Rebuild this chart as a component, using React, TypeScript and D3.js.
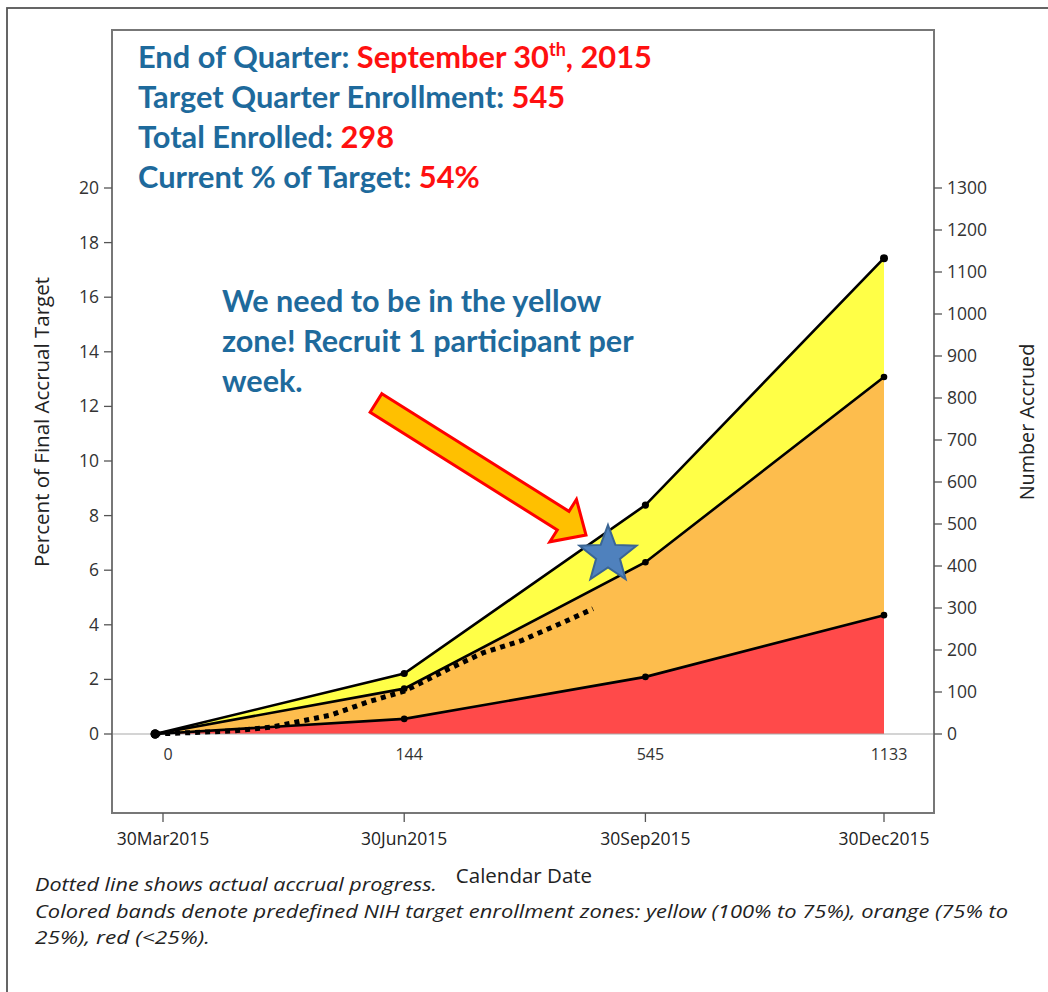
import React from "react";
import * as d3 from "d3";

// ---- data ----
const bandDates = ["2015-03-27", "2015-06-30", "2015-09-30", "2015-12-30"];
const targetTotal = [0, 144, 545, 1133]; // 100% target (top of yellow)
const target75 = [0, 108, 409, 850]; // 75% (top of orange)
const target25 = [0, 36, 136, 283]; // 25% (top of red)
const tickDates = ["2015-03-30", "2015-06-30", "2015-09-30", "2015-12-30"];
const tickDateLabels = ["30Mar2015", "30Jun2015", "30Sep2015", "30Dec2015"];
const targetLabels = ["0", "144", "545", "1133"];
const actualDates = [
  "2015-03-27", "2015-04-25", "2015-05-11", "2015-05-26", "2015-06-02", "2015-06-16",
  "2015-06-30", "2015-07-16", "2015-07-30", "2015-08-14", "2015-08-29", "2015-09-10",
];
const actualValues = [0, 7, 17, 36, 45, 76, 102, 152, 193, 223, 264, 298];
const pctTicks = [0, 2, 4, 6, 8, 10, 12, 14, 16, 18, 20];
const numTicks = [0, 100, 200, 300, 400, 500, 600, 700, 800, 900, 1000, 1100, 1200, 1300];

const parse = d3.timeParse("%Y-%m-%d");

export default function App() {
  const W = 1048, H = 992;
  const plot = { left: 112, right: 934, top: 30, bottom: 813 };
  const x = d3.scaleTime()
    .domain([parse("2015-03-30")!, parse("2015-12-30")!])
    .range([163, 884]);
  const yPct = d3.scaleLinear().domain([0, 20]).range([734, 188]);
  const yNum = d3.scaleLinear().domain([0, 1300]).range([734, 188]);

  const bd = bandDates.map((d) => parse(d)!);
  const rows = bd.map((d, i) => ({ d, top: targetTotal[i], o: target75[i], r: target25[i] }));

  const areaY = d3.area<any>().x((p) => x(p.d)).y0(yNum(0)).y1((p) => yNum(p.top));
  const areaO = d3.area<any>().x((p) => x(p.d)).y0(yNum(0)).y1((p) => yNum(p.o));
  const areaR = d3.area<any>().x((p) => x(p.d)).y0(yNum(0)).y1((p) => yNum(p.r));
  const line = (key: string) => d3.line<any>().x((p) => x(p.d)).y((p) => yNum(p[key]))(rows) || "";

  const actual = actualDates.map((d, i) => ({ d: parse(d)!, v: actualValues[i] }));
  const actualLine = d3.line<any>().x((p) => x(p.d)).y((p) => yNum(p.v))(actual) || "";

  // star annotation
  const sc = { x: 608, y: 555 }, rO = 30, rI = 12.5;
  const starPts: string[] = [];
  for (let i = 0; i < 10; i++) {
    const a = -Math.PI / 2 + (i * Math.PI) / 5;
    const r = i % 2 === 0 ? rO : rI;
    starPts.push(`${sc.x + r * Math.cos(a)},${sc.y + r * Math.sin(a)}`);
  }

  // arrow annotation
  const tail = { x: 376, y: 403 }, tip = { x: 586, y: 535 };
  const len = Math.hypot(tip.x - tail.x, tip.y - tail.y);
  const ang = (Math.atan2(tip.y - tail.y, tip.x - tail.x) * 180) / Math.PI;
  const sw = 11, hw = 25, hl = 27;
  const arrowPts = [
    [0, -sw], [len - hl, -sw], [len - hl, -hw], [len, 0], [len - hl, hw], [len - hl, sw], [0, sw],
  ].map((p) => p.join(",")).join(" ");

  const tickFont = "'Open Sans', sans-serif";
  const blue = "#1E6A9C";
  const red = "#FF1010";
  const headFont = "Lato, 'Open Sans', sans-serif";

  return (
    <svg width={W} height={H} style={{ position: "absolute", left: 0, top: 0, background: "#fff" }}
      fontFamily={tickFont}>
      <rect x={0} y={0} width={W} height={H} fill="#fff" />
      {/* outer frame */}
      <rect x={7} y={8} width={W + 20} height={H + 20} fill="none" stroke="#555" strokeWidth={1.8} />

      {/* bands */}
      <path d={areaY(rows) || ""} fill="#FFFF47" />
      <path d={areaO(rows) || ""} fill="#FDBD4D" />
      <path d={areaR(rows) || ""} fill="#FF4A4A" />

      {/* zero baseline */}
      <line x1={plot.left} x2={plot.right} y1={yPct(0)} y2={yPct(0)} stroke="#aaa" strokeWidth={1.2} />

      {/* band lines */}
      {["top", "o", "r"].map((k) => (
        <path key={k} d={line(k)} fill="none" stroke="#000" strokeWidth={2.6} />
      ))}
      {rows.map((p, i) => (
        <g key={i}>
          <circle cx={x(p.d)} cy={yNum(p.top)} r={i === 0 ? 4.5 : i === 3 ? 4 : 3.6} fill="#000" />
          <circle cx={x(p.d)} cy={yNum(p.o)} r={i === 0 ? 4.5 : 3.3} fill="#000" />
          <circle cx={x(p.d)} cy={yNum(p.r)} r={i === 0 ? 4.5 : 3.3} fill="#000" />
        </g>
      ))}

      {/* actual accrual dotted line */}
      <path d={actualLine} fill="none" stroke="#000" strokeWidth={5} strokeDasharray="5,5" />

      {/* target labels under baseline */}
      {tickDates.map((d, i) => (
        <text key={d} x={x(parse(d)!) + 5} y={760} textAnchor="middle" fontSize={16} fill="#333">
          {targetLabels[i]}
        </text>
      ))}

      {/* plot box */}
      <rect x={plot.left} y={plot.top} width={plot.right - plot.left} height={plot.bottom - plot.top}
        fill="none" stroke="#777" strokeWidth={2} />

      {/* left axis */}
      {pctTicks.map((t) => (
        <g key={t}>
          <line x1={plot.left - 8} x2={plot.left} y1={yPct(t)} y2={yPct(t)} stroke="#555" strokeWidth={1.3} />
          <text x={plot.left - 13} y={yPct(t) + 6} textAnchor="end" fontSize={17.5} fill="#333">{t}</text>
        </g>
      ))}
      <text transform={`translate(49,${422}) rotate(-90)`} textAnchor="middle"
        fontSize={20.5} fill="#222">Percent of Final Accrual Target</text>

      {/* right axis */}
      {numTicks.map((t) => (
        <g key={t}>
          <line x1={plot.right} x2={plot.right + 8} y1={yNum(t)} y2={yNum(t)} stroke="#555" strokeWidth={1.3} />
          <text x={plot.right + 13} y={yNum(t) + 6} textAnchor="start" fontSize={17.5} fill="#333">{t}</text>
        </g>
      ))}
      <text transform={`translate(1034,${422}) rotate(-90)`} textAnchor="middle"
        fontSize={19.8} fill="#222">Number Accrued</text>

      {/* bottom axis */}
      {tickDates.map((d, i) => (
        <g key={d}>
          <line x1={x(parse(d)!)} x2={x(parse(d)!)} y1={plot.bottom} y2={plot.bottom + 9} stroke="#555" strokeWidth={1.3} />
          <text x={x(parse(d)!)} y={845} textAnchor="middle" fontSize={17.5} fill="#222">{tickDateLabels[i]}</text>
        </g>
      ))}
      <text x={524} y={883} textAnchor="middle" fontSize={20.5} fill="#222">Calendar Date</text>

      {/* headline text */}
      <g fontFamily={headFont} fontWeight={700} fontSize={30.8}>
        <text x={138} y={68}>
          <tspan fill={blue}>End of Quarter: </tspan>
          <tspan fill={red}>September 30</tspan>
          <tspan fill={red} fontSize={18} dy={-12}>th</tspan>
          <tspan fill={red} dy={12}>, 2015</tspan>
        </text>
        <text x={138} y={108}>
          <tspan fill={blue}>Target Quarter Enrollment: </tspan>
          <tspan fill={red}>545</tspan>
        </text>
        <text x={138} y={148}>
          <tspan fill={blue}>Total Enrolled: </tspan>
          <tspan fill={red}>298</tspan>
        </text>
        <text x={138} y={188}>
          <tspan fill={blue}>Current % of Target: </tspan>
          <tspan fill={red}>54%</tspan>
        </text>
      </g>

      {/* annotation */}
      <g fontFamily={headFont} fontWeight={700} fontSize={30.6} fill={blue}>
        <text x={222} y={312}>We need to be in the yellow</text>
        <text x={222} y={352}>zone! Recruit 1 participant per</text>
        <text x={222} y={392}>week.</text>
      </g>
      <polygon points={arrowPts} transform={`translate(${tail.x},${tail.y}) rotate(${ang})`}
        fill="#FFC000" stroke="#FF0000" strokeWidth={3} strokeLinejoin="miter" />
      <polygon points={starPts.join(" ")} fill="#4F81BD" stroke="#3A6594" strokeWidth={2} />

      {/* caption */}
      <g fontStyle="italic" fontSize={19} fill="#222">
        <text x={35} y={891} textLength={402} lengthAdjust="spacingAndGlyphs">Dotted line shows actual accrual progress.</text>
        <text x={35} y={918} textLength={973} lengthAdjust="spacingAndGlyphs">Colored bands denote predefined NIH target enrollment zones: yellow (100% to 75%), orange (75% to</text>
        <text x={35} y={944} textLength={175} lengthAdjust="spacingAndGlyphs">25%), red (&lt;25%).</text>
      </g>
    </svg>
  );
}
